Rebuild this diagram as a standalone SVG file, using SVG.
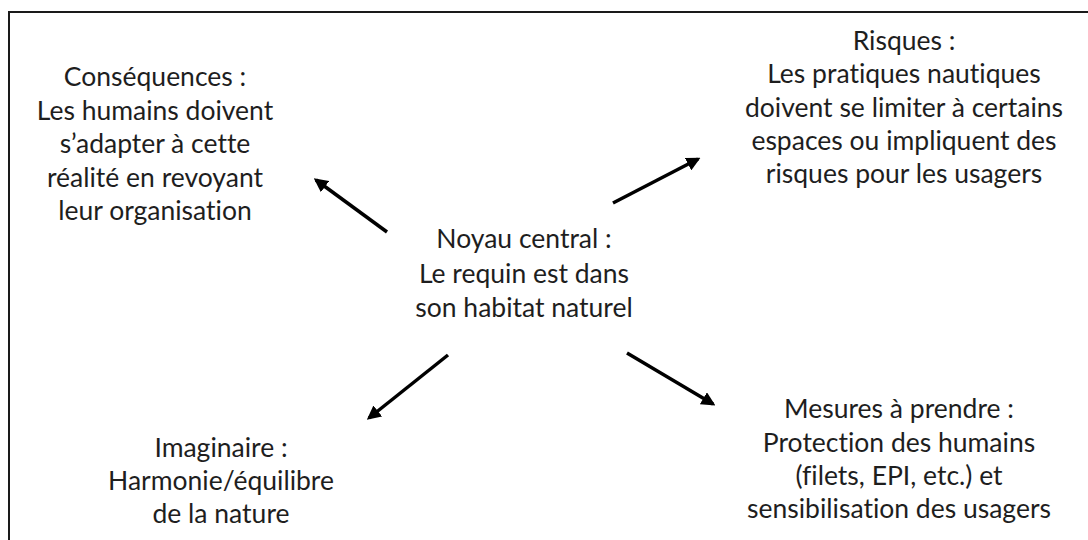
<svg xmlns="http://www.w3.org/2000/svg" width="1088" height="540" viewBox="0 0 1088 540">
<defs>
<marker id="ah" viewBox="0 0 10 10" refX="8" refY="5" markerWidth="4" markerHeight="4" orient="auto" markerUnits="strokeWidth">
<path d="M0,0 L10,5 L0,10 z" fill="#000"/>
</marker>
<style>
.t{font-family:Lato,"Liberation Sans",sans-serif;font-size:26.5px;fill:#1e1e1e;text-anchor:middle;font-variant-ligatures:none;font-feature-settings:"liga" 0,"dlig" 0}
.c{stroke:#000;stroke-width:3.5;fill:none;marker-end:url(#ah)}
</style>
</defs>
<rect width="1088" height="540" fill="#fff"/>
<rect x="9" y="12" width="1100" height="560" fill="none" stroke="#1a1a1a" stroke-width="2"/>
<g id="connectors">
<line class="c" x1="387" y1="232" x2="316" y2="180"/>
<line class="c" x1="613" y1="203" x2="698" y2="159"/>
<line class="c" x1="448" y1="355" x2="369" y2="418"/>
<line class="c" x1="627" y1="353" x2="713" y2="404"/>
</g>
<g id="consequences">
<text class="t" x="155" y="86">Conséquences :</text>
<text class="t" x="155" y="119.5">Les humains doivent</text>
<text class="t" x="155" y="153">s’adapter à cette</text>
<text class="t" x="155" y="187">réalité en revoyant</text>
<text class="t" x="155" y="220">leur organisation</text>
</g>
<g id="risques">
<text class="t" x="904" y="50">Risques :</text>
<text class="t" x="904" y="83">Les pratiques nautiques</text>
<text class="t" x="904" y="117">doivent se limiter à certains</text>
<text class="t" x="904" y="150">espaces ou impliquent des</text>
<text class="t" x="904" y="183">risques pour les usagers</text>
</g>
<g id="noyau">
<text class="t" x="524" y="248">Noyau central :</text>
<text class="t" x="524" y="283">Le requin est dans</text>
<text class="t" x="524" y="317">son habitat naturel</text>
</g>
<g id="imaginaire">
<text class="t" x="221" y="457">Imaginaire :</text>
<text class="t" x="221" y="490">Harmonie/équilibre</text>
<text class="t" x="221" y="523">de la nature</text>
</g>
<g id="mesures">
<text class="t" x="899" y="418">Mesures à prendre :</text>
<text class="t" x="899" y="452">Protection des humains</text>
<text class="t" x="899" y="485">(filets, EPI, etc.) et</text>
<text class="t" x="899" y="518">sensibilisation des usagers</text>
</g>
</svg>
